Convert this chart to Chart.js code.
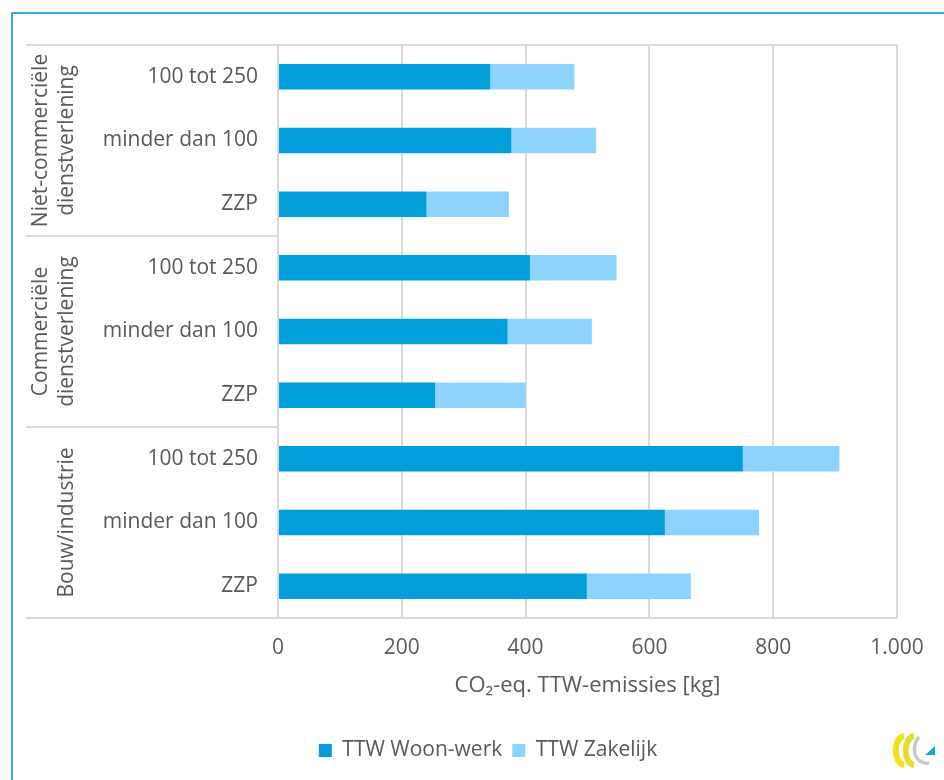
<!DOCTYPE html>
<html><head><meta charset="utf-8">
<script src="https://cdn.jsdelivr.net/npm/chart.js@4/dist/chart.umd.min.js"></script>
<style>
html,body{margin:0;padding:0;background:#fff;overflow:hidden;width:944px;height:780px}
#frame{position:absolute;left:11px;top:12px;width:1000px;height:1000px;border-left:2px solid #3aa9de;border-top:2px solid #3aa9de}
#wrap{position:absolute;left:0;top:0;width:944px;height:780px}
#logo{position:absolute;left:892px;top:733px}
</style></head><body>
<div id="frame"></div>
<div id="wrap"><canvas id="c" width="944" height="780"></canvas></div>
<svg id="logo" width="46" height="36" viewBox="0 0 46 36">
 <path d="M12 3 C1 5 1 30 12 32" stroke="#f1e01c" stroke-width="6" fill="none"/>
 <path d="M22 3 C11 5 11 30 22 32" stroke="#e9dc2c" stroke-width="6" fill="none"/>
 <path d="M27 4 C19 12 21 32 37 30" stroke="#c9c9c9" stroke-width="3.5" fill="none"/>
 <polygon points="33,22 43,22 43,13" fill="#1ba3e0"/>
</svg>
<script>
const categories = ['100 tot 250','minder dan 100','ZZP','100 tot 250','minder dan 100','ZZP','100 tot 250','minder dan 100','ZZP'];
const groupLabels = [['Niet-commerciële','dienstverlening'],['Commerciële','dienstverlening'],['Bouw/industrie']];
const groupSizes = [3,3,3];
const woonWerk = [343, 377, 240, 407, 371, 254, 751, 625, 499];
const zakelijk = [136, 137, 133, 140, 136, 146, 156, 152, 168];
const xTickLabels = ['0','200','400','600','800','1.000'];
const seriesNames = ['TTW Woon-werk','TTW Zakelijk'];

const FONT = "'Open Sans', sans-serif";
const TXT = '#595959';
const GRID = '#d9d9d9';
const FS = 21;

const groupPlugin = {
  id: 'groups',
  afterDraw(chart) {
    const {ctx, chartArea: a, scales: {y}} = chart;
    ctx.save();
    ctx.strokeStyle = GRID;
    ctx.lineWidth = 2;
    const x0 = 26;
    ctx.beginPath();
    ctx.moveTo(x0, a.top); ctx.lineTo(a.right, a.top);
    ctx.moveTo(x0, a.bottom); ctx.lineTo(a.right, a.bottom);
    let idx = 0;
    const bounds = [a.top];
    groupSizes.forEach((n) => {
      idx += n;
      if (idx < categories.length) {
        const yb = (y.getPixelForValue(idx - 1) + y.getPixelForValue(idx)) / 2;
        ctx.moveTo(x0, yb); ctx.lineTo(a.left, yb);
        bounds.push(yb);
      }
    });
    bounds.push(a.bottom);
    ctx.stroke();
    ctx.fillStyle = TXT;
    ctx.font = FS + 'px ' + FONT;
    ctx.textAlign = 'center';
    ctx.textBaseline = 'middle';
    groupLabels.forEach((lines, g) => {
      const cy = (bounds[g] + bounds[g + 1]) / 2;
      const lastX = 67;
      lines.forEach((ln, i) => {
        const cx = lastX - (lines.length - 1 - i) * 26;
        ctx.save();
        ctx.translate(cx, cy);
        ctx.rotate(-Math.PI / 2);
        ctx.fillText(ln, 0, 0);
        ctx.restore();
      });
    });
    ctx.restore();
  }
};

new Chart(document.getElementById('c'), {
  type: 'bar',
  data: {
    labels: categories,
    datasets: [
      {label: seriesNames[0], data: woonWerk, backgroundColor: '#019ed9', categoryPercentage: 0.8, barPercentage: 0.5},
      {label: seriesNames[1], data: zakelijk, backgroundColor: '#8ed3fe', categoryPercentage: 0.8, barPercentage: 0.5}
    ]
  },
  plugins: [groupPlugin],
  options: {
    indexAxis: 'y',
    responsive: false,
    animation: false,
    devicePixelRatio: 1,
    layout: {padding: {left: 79, right: 47, top: 45, bottom: 9}},
    scales: {
      x: {
        stacked: true,
        min: 0, max: 1000,
        border: {display: false},
        grid: {color: GRID, lineWidth: 2, drawTicks: false},
        ticks: {stepSize: 200, padding: 17, color: TXT, font: {family: FONT, size: FS},
          callback: (v, i) => xTickLabels[i]},
        title: {display: true, text: 'CO₂-eq. TTW-emissies [kg]', color: TXT, font: {family: FONT, size: 22}, padding: {top: 4, bottom: 31}},
        afterFit: s => { s.height = 112; }
      },
      y: {
        stacked: true,
        border: {display: true, color: GRID, width: 2},
        grid: {display: false, drawTicks: false},
        ticks: {padding: 20, color: TXT, font: {family: FONT, size: FS}},
        afterFit: s => { s.width = 199; }
      }
    },
    plugins: {
      legend: {
        position: 'bottom',
        labels: {boxWidth: 13, boxHeight: 13, padding: 10, color: TXT, font: {family: FONT, size: FS}}
      },
      tooltip: {enabled: false}
    }
  }
});
</script>
</body></html>
